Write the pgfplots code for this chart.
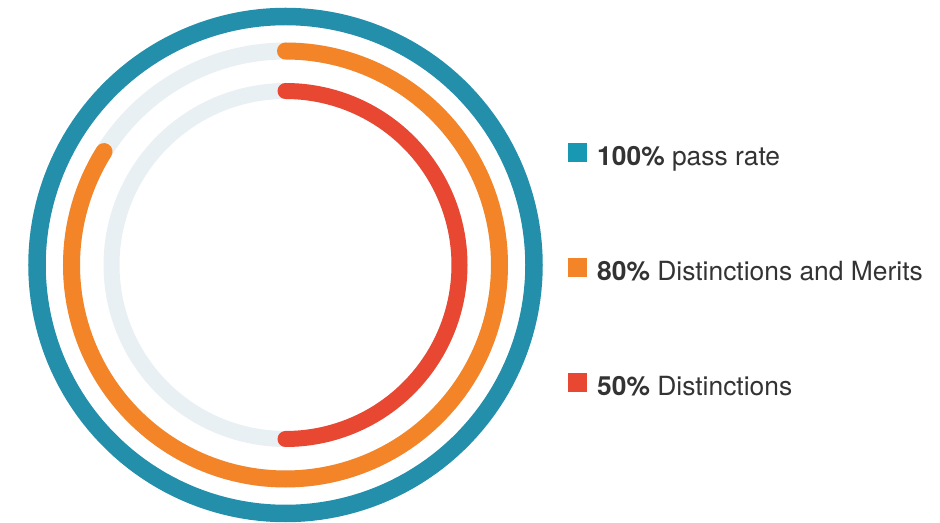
\documentclass[border=0pt]{standalone}
\usepackage{pgfplots}
\pgfplotsset{compat=1.18}
\usepgfplotslibrary{polar}
\usepackage{fontspec}
\setmainfont{TeX Gyre Heros}
\definecolor{cTeal}{HTML}{238FAA}
\definecolor{cTealL}{HTML}{1898B2}
\definecolor{cOrange}{HTML}{F38427}
\definecolor{cRed}{HTML}{E84732}
\definecolor{cTrack}{HTML}{E9F0F4}
\definecolor{cText}{HTML}{333333}
% ring data: radius (px), start and end angle (deg, counter-clockwise)
\def\rA{248.5}\def\sA{0}\def\eA{360}   % 100% pass rate (full ring)
\def\rB{214}\def\sB{148}\def\eB{450}   % 80% Distinctions and Merits
\def\rC{174}\def\sC{-90}\def\eC{90}    % 50% Distinctions
\begin{document}
\begin{tikzpicture}
\path[use as bounding box] (0,0) rectangle (470pt,261.5pt);
\begin{polaraxis}[
  at={(142.75pt,129pt)}, anchor=center,
  scale only axis, width=260pt, height=260pt,
  ymin=0, ymax=260,
  hide axis, clip=false,
  legend cell align=left,
  legend image code/.code={\fill[#1] (0pt,-0.3em) rectangle (9pt,9pt-0.3em);},
  legend style={
    at={(1.0433,0.7345)}, anchor=north west, draw=none, fill=none, inner sep=0pt,
    font=\fontsize{13.2pt}{15pt}\selectfont,
    row sep=46.5pt,
    nodes={inner sep=0pt, text height=9.5pt, text depth=0pt, text=cText},
    /tikz/every odd column/.append style={column sep=5pt},
  },
]
\addplot[forget plot, cTrack, line width=8.5pt, domain=0:360, samples=181] {\rB};
\addplot[forget plot, cTrack, line width=8pt, domain=0:360, samples=181] {\rC};
\addplot[forget plot, cTeal, line width=8.75pt, domain=\sA:\eA, samples=181] {\rA};
\addplot[forget plot, cOrange, line width=8.5pt, line cap=round, domain=\sB:\eB, samples=152] {\rB};
\addplot[forget plot, cRed, line width=8pt, line cap=round, domain=\sC:\eC, samples=91] {\rC};
\addlegendimage{cTealL}
\addlegendentry{\textbf{100\%} pass rate}
\addlegendimage{cOrange}
\addlegendentry{\textbf{80\%} Distinctions and Merits}
\addlegendimage{cRed}
\addlegendentry{\textbf{50\%} Distinctions}
\end{polaraxis}
\end{tikzpicture}
\end{document}
